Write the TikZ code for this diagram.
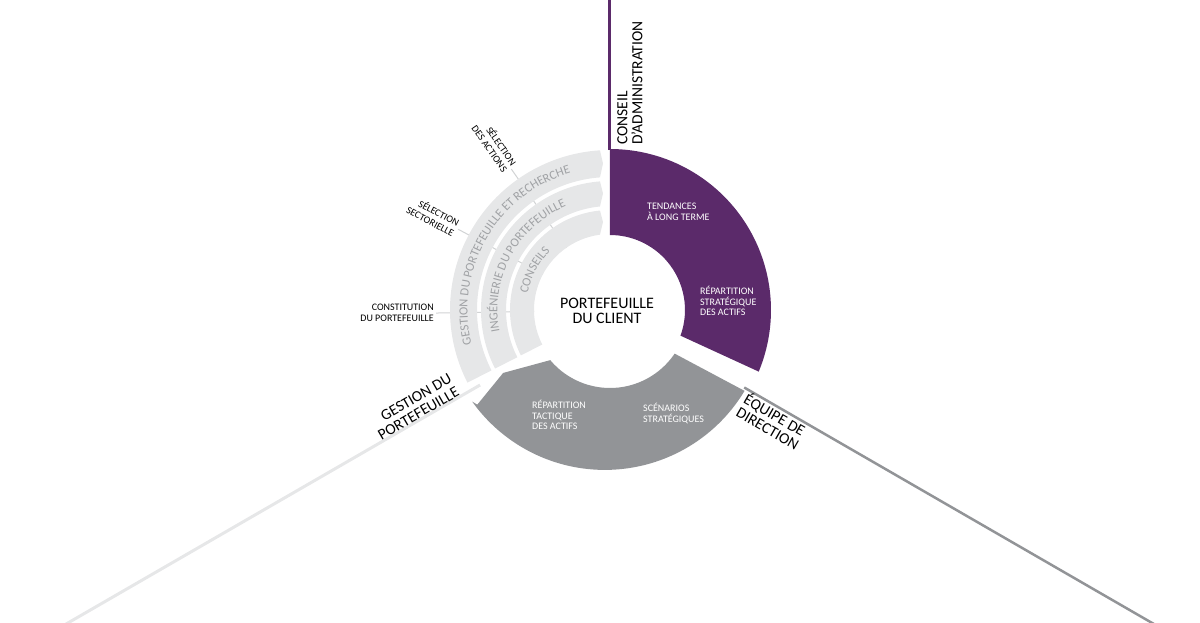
\documentclass[tikz,border=0pt]{standalone}
\usepackage{fontspec}
\setmainfont{Carlito}
\usetikzlibrary{decorations.text}

\definecolor{boardpurple}{HTML}{5B2A6A}
\definecolor{teamgrey}{HTML}{929497}
\definecolor{bandgrey}{HTML}{E6E7E8}
\definecolor{bandtext}{HTML}{A0A2A5}
\definecolor{leadergrey}{HTML}{D1D3D4}

\newcommand{\bandfont}{\fontsize{12.5}{12.5}\selectfont}

\begin{document}
\begin{tikzpicture}[x=1pt, y=1pt,
    band/.style={fill=bandgrey},
    leader/.style={draw=leadergrey, line width=1pt},
    bigtitle/.style={font=\fontsize{15.5}{15}\selectfont, align=left, inner sep=1pt},
    centre/.style={font=\fontsize{16}{15}\selectfont, align=center, inner sep=0pt},
    inlabel/.style={font=\fontsize{10}{10.5}\selectfont, text=white, align=left, inner sep=0pt},
    sidelabel/.style={font=\fontsize{10}{11}\selectfont, align=right, inner sep=2pt},
    bandlabel/.style={decorate, decoration={text along path, text color=bandtext,
        text align=center, text={|\bandfont|#1}}}
]

\clip (-610,-312) rectangle (590,310);

% Main axes
\coordinate (board-in)  at (90:160);
\coordinate (board-end) at (90:330);
\coordinate (team-in)   at (-30:155);
\coordinate (team-end)  at (-30:650);
\coordinate (pm-in)     at (210:150);
\coordinate (pm-end)    at (210:650);

\draw[boardpurple, line width=3pt] (board-in) -- (board-end);
\draw[teamgrey, line width=2.5pt] (team-in) -- (team-end);
\draw[bandgrey, line width=3pt] (pm-in) -- (pm-end);

% Leader lines (under the bands)
\coordinate (actions-in)  at (125:76);
\coordinate (actions-out) at (125:172);
\coordinate (sector-in)   at (152:76);
\coordinate (sector-out)  at (152:172);
\coordinate (build-in)    at (181:76);
\coordinate (build-out)   at (181:174);

\node[sidelabel, rotate=-55, anchor=east] (actions) at (actions-out) {SÉLECTION\\DES ACTIONS};
\node[sidelabel, rotate=-28, anchor=east] (sector)  at (sector-out)  {SÉLECTION\\SECTORIELLE};
\node[sidelabel, anchor=east]             (build)   at (build-out)   {CONSTITUTION\\DU PORTEFEUILLE};

\draw[leader] (actions-in) -- (actions.east);
\draw[leader] (sector-in) -- (sector.east);
\draw[leader] (build-in) -- (build.east);

% Portfolio management bands
\foreach \rin/\rout in {76/100, 104/129, 133/160}{
    \fill[band] (207:\rout) arc[start angle=207, end angle={90+asin(10/\rout)}, radius=\rout]
        -- (-7,{(\rin+\rout)/2})
        -- ({90+asin(10/\rin)}:\rin) arc[start angle={90+asin(10/\rin)}, end angle=207, radius=\rin]
        -- cycle;
}

\path[bandlabel={GESTION DU PORTEFEUILLE ET RECHERCHE}] (198:142.5) arc[start angle=198, end angle=102, radius=142.5];
\path[bandlabel={INGÉNIERIE DU PORTEFEUILLE}] (200:112.5) arc[start angle=200, end angle=104, radius=112.5];
\path[bandlabel={CONSEILS}] (200:84) arc[start angle=200, end angle=104, radius=84];

% Board sector
\fill[boardpurple] (90:76) -- (90:161) arc[start angle=90, end angle=-22.5, radius=161]
    -- (-20:75) arc[start angle=-20, end angle=90, radius=75] -- cycle;

% Management team sector
\fill[teamgrey] (215.5:163) -- (210.5:124) -- (220:78)
    arc[start angle=220, end angle=326, radius=78]
    -- (329:157) arc[start angle=329, end angle=215.5, radius=163] -- cycle;

% Sector texts
\node[inlabel, anchor=west] (trends)    at (37,98)     {TENDANCES\\À LONG TERME};
\node[inlabel, anchor=west] (strategic) at (90,9)      {RÉPARTITION\\STRATÉGIQUE\\DES ACTIFS};
\node[inlabel, anchor=west] (tactical)  at (-78,-105)  {RÉPARTITION\\TACTIQUE\\DES ACTIFS};
\node[inlabel, anchor=west] (scenarios) at (33,-103.5) {SCÉNARIOS\\STRATÉGIQUES};

% Centre
\node[centre] (client) at (-3,-1) {PORTEFEUILLE\\DU CLIENT};

% Axis titles
\node[bigtitle, rotate=90, anchor=north west] (board) at (6,164) {CONSEIL\\D’ADMINISTRATION};
\node[bigtitle, rotate=-30, anchor=north west] (team) at (-30:160) {ÉQUIPE DE\\DIRECTION};
\node[bigtitle, rotate=30, anchor=south east, align=right] (pm) at (210:171) {GESTION DU\\PORTEFEUILLE};

\end{tikzpicture}
\end{document}
